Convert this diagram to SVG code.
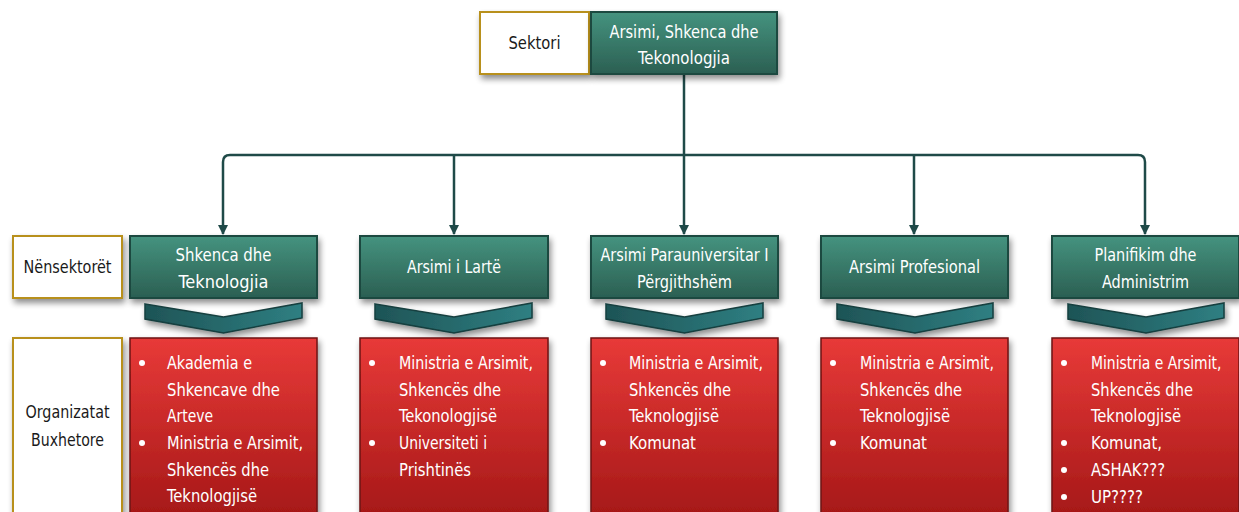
<svg xmlns="http://www.w3.org/2000/svg" width="1239" height="512" viewBox="0 0 1239 512">
<defs>
<linearGradient id="gGreen" x1="0" y1="0" x2="0" y2="1">
<stop offset="0" stop-color="#45937f"/>
<stop offset="1" stop-color="#2b5f52"/>
</linearGradient>
<linearGradient id="gRed" x1="0" y1="0" x2="0" y2="1">
<stop offset="0" stop-color="#e83a38"/>
<stop offset="1" stop-color="#a11616"/>
</linearGradient>
<linearGradient id="gChev" x1="0" y1="0" x2="1" y2="0">
<stop offset="0" stop-color="#1e5456"/>
<stop offset="1" stop-color="#2f7f82"/>
</linearGradient>
<filter id="sh" x="-10%" y="-10%" width="125%" height="135%">
<feGaussianBlur in="SourceAlpha" stdDeviation="3"/>
<feOffset dx="2" dy="4" result="b"/>
<feComponentTransfer><feFuncA type="linear" slope="0.45"/></feComponentTransfer>
<feMerge><feMergeNode/><feMergeNode in="SourceGraphic"/></feMerge>
</filter>
<marker id="arr" viewBox="0 0 10 10" refX="9" refY="5" markerWidth="10" markerHeight="10" markerUnits="userSpaceOnUse" orient="auto">
<path d="M0,0 L10,5 L0,10 z" fill="#1f4a48"/>
</marker>
</defs>
<style>
text{font-family:"Liberation Sans Narrow","DejaVu Sans Condensed","Liberation Sans",sans-serif;font-size:18px}
.w{fill:#ffffff}
.k{fill:#1a1a1a}
.mid{text-anchor:middle}
.lbl{fill:#ffffff;stroke:#b8901e;stroke-width:2}
.grn{fill:url(#gGreen);stroke:#1f4a40;stroke-width:2}
.red{fill:url(#gRed);stroke:#6d1212;stroke-width:1.5}
.chev{fill:url(#gChev);stroke:#163f3f;stroke-width:1.5}
.con{fill:none;stroke:#1f4a48;stroke-width:2.5}
</style>
<rect width="1239" height="512" fill="#ffffff"/>

<g id="connectors">
<path class="con" d="M684,74 V155"/>
<path class="con" d="M684,155 H230 Q223,155 223,162 V234" marker-end="url(#arr)"/>
<path class="con" d="M684,155 H1138 Q1145,155 1145,162 V234" marker-end="url(#arr)"/>
<path class="con" d="M454,155 V234" marker-end="url(#arr)"/>
<path class="con" d="M684,155 V234" marker-end="url(#arr)"/>
<path class="con" d="M914,155 V234" marker-end="url(#arr)"/>
</g>

<g id="label-sektori">
<rect class="lbl" x="480" y="12" width="109" height="62" filter="url(#sh)"/>
<text class="k mid" x="534.5" y="49" textLength="52" lengthAdjust="spacingAndGlyphs">Sektori</text>
</g>
<g id="root">
<rect class="grn" x="591" y="12" width="186" height="62" filter="url(#sh)"/>
<text class="w mid" x="684" y="38" textLength="149" lengthAdjust="spacingAndGlyphs">Arsimi, Shkenca dhe</text>
<text class="w mid" x="684" y="64" textLength="92" lengthAdjust="spacingAndGlyphs">Tekonologjia</text>
</g>

<g id="label-nensektoret">
<rect class="lbl" x="13" y="236" width="109" height="62" filter="url(#sh)"/>
<text class="k mid" x="67.5" y="273" textLength="88" lengthAdjust="spacingAndGlyphs">Nënsektorët</text>
</g>
<g id="label-organizatat">
<rect class="lbl" x="13" y="338" width="109" height="190" filter="url(#sh)"/>
<text class="k mid" x="67.5" y="418" textLength="84" lengthAdjust="spacingAndGlyphs">Organizatat</text>
<text class="k mid" x="67.5" y="446" textLength="73" lengthAdjust="spacingAndGlyphs">Buxhetore</text>
</g>

<!-- Column 1 -->
<g id="sub1">
<rect class="grn" x="130" y="236" width="187" height="62" filter="url(#sh)"/>
<text class="w mid" x="223.5" y="261" textLength="96" lengthAdjust="spacingAndGlyphs">Shkenca dhe</text>
<text class="w mid" x="223.5" y="288" textLength="90" lengthAdjust="spacingAndGlyphs">Teknologjia</text>
</g>
<g id="chev1"><path class="chev" filter="url(#sh)" d="M145,304 L223.5,317 L302,303 L302,318 L223.5,333 L145,319 Z"/></g>
<g id="org1">
<rect class="red" x="130" y="338" width="187" height="190" filter="url(#sh)"/>
<circle class="w" cx="142" cy="363" r="3"/>
<circle class="w" cx="142" cy="443" r="3"/>
<text class="w" x="167" y="369" textLength="85" lengthAdjust="spacingAndGlyphs">Akademia e</text>
<text class="w" x="167" y="396" textLength="113" lengthAdjust="spacingAndGlyphs">Shkencave dhe</text>
<text class="w" x="167" y="422" textLength="46" lengthAdjust="spacingAndGlyphs">Arteve</text>
<text class="w" x="167" y="449" textLength="136" lengthAdjust="spacingAndGlyphs">Ministria e Arsimit,</text>
<text class="w" x="167" y="476" textLength="102" lengthAdjust="spacingAndGlyphs">Shkencës dhe</text>
<text class="w" x="167" y="502" textLength="90" lengthAdjust="spacingAndGlyphs">Teknologjisë</text>
</g>

<!-- Column 2 -->
<g id="sub2">
<rect class="grn" x="360" y="236" width="188" height="62" filter="url(#sh)"/>
<text class="w mid" x="454" y="273" textLength="94" lengthAdjust="spacingAndGlyphs">Arsimi i Lartë</text>
</g>
<g id="chev2"><path class="chev" filter="url(#sh)" d="M375,304 L454,317 L532,303 L532,318 L454,333 L375,319 Z"/></g>
<g id="org2">
<rect class="red" x="360" y="338" width="188" height="190" filter="url(#sh)"/>
<circle class="w" cx="372" cy="363" r="3"/>
<circle class="w" cx="372" cy="443" r="3"/>
<text class="w" x="399" y="369" textLength="134" lengthAdjust="spacingAndGlyphs">Ministria e Arsimit,</text>
<text class="w" x="399" y="396" textLength="102" lengthAdjust="spacingAndGlyphs">Shkencës dhe</text>
<text class="w" x="399" y="422" textLength="98" lengthAdjust="spacingAndGlyphs">Tekonologjisë</text>
<text class="w" x="399" y="449" textLength="88" lengthAdjust="spacingAndGlyphs">Universiteti i</text>
<text class="w" x="399" y="476" textLength="72" lengthAdjust="spacingAndGlyphs">Prishtinës</text>
</g>

<!-- Column 3 -->
<g id="sub3">
<rect class="grn" x="591" y="236" width="187" height="62" filter="url(#sh)"/>
<text class="w mid" x="684.5" y="261" textLength="168" lengthAdjust="spacingAndGlyphs">Arsimi Parauniversitar I</text>
<text class="w mid" x="684.5" y="288" textLength="95" lengthAdjust="spacingAndGlyphs">Përgjithshëm</text>
</g>
<g id="chev3"><path class="chev" filter="url(#sh)" d="M606,304 L684.5,317 L763,303 L763,318 L684.5,333 L606,319 Z"/></g>
<g id="org3">
<rect class="red" x="591" y="338" width="187" height="190" filter="url(#sh)"/>
<circle class="w" cx="603" cy="363" r="3"/>
<circle class="w" cx="603" cy="443" r="3"/>
<text class="w" x="629" y="369" textLength="134" lengthAdjust="spacingAndGlyphs">Ministria e Arsimit,</text>
<text class="w" x="629" y="396" textLength="102" lengthAdjust="spacingAndGlyphs">Shkencës dhe</text>
<text class="w" x="629" y="422" textLength="90" lengthAdjust="spacingAndGlyphs">Teknologjisë</text>
<text class="w" x="629" y="449" textLength="67" lengthAdjust="spacingAndGlyphs">Komunat</text>
</g>

<!-- Column 4 -->
<g id="sub4">
<rect class="grn" x="821" y="236" width="187" height="62" filter="url(#sh)"/>
<text class="w mid" x="914.5" y="273" textLength="131" lengthAdjust="spacingAndGlyphs">Arsimi Profesional</text>
</g>
<g id="chev4"><path class="chev" filter="url(#sh)" d="M837,304 L915,317 L993,303 L993,318 L915,333 L837,319 Z"/></g>
<g id="org4">
<rect class="red" x="821" y="338" width="187" height="190" filter="url(#sh)"/>
<circle class="w" cx="833" cy="363" r="3"/>
<circle class="w" cx="833" cy="443" r="3"/>
<text class="w" x="860" y="369" textLength="134" lengthAdjust="spacingAndGlyphs">Ministria e Arsimit,</text>
<text class="w" x="860" y="396" textLength="102" lengthAdjust="spacingAndGlyphs">Shkencës dhe</text>
<text class="w" x="860" y="422" textLength="90" lengthAdjust="spacingAndGlyphs">Teknologjisë</text>
<text class="w" x="860" y="449" textLength="67" lengthAdjust="spacingAndGlyphs">Komunat</text>
</g>

<!-- Column 5 -->
<g id="sub5">
<rect class="grn" x="1052" y="236" width="187" height="62" filter="url(#sh)"/>
<text class="w mid" x="1145.5" y="261" textLength="102" lengthAdjust="spacingAndGlyphs">Planifikim dhe</text>
<text class="w mid" x="1145.5" y="288" textLength="87" lengthAdjust="spacingAndGlyphs">Administrim</text>
</g>
<g id="chev5"><path class="chev" filter="url(#sh)" d="M1068,304 L1146,317 L1224,303 L1224,318 L1146,333 L1068,319 Z"/></g>
<g id="org5">
<rect class="red" x="1052" y="338" width="187" height="190" filter="url(#sh)"/>
<circle class="w" cx="1064" cy="363" r="3"/>
<circle class="w" cx="1064" cy="443" r="3"/>
<circle class="w" cx="1064" cy="470" r="3"/>
<circle class="w" cx="1064" cy="497" r="3"/>
<text class="w" transform="translate(1091,369) scale(0.86,1)" x="0" y="0">Ministria e Arsimit,</text>
<text class="w" x="1091" y="396" textLength="102" lengthAdjust="spacingAndGlyphs">Shkencës dhe</text>
<text class="w" x="1091" y="422" textLength="90" lengthAdjust="spacingAndGlyphs">Teknologjisë</text>
<text class="w" x="1091" y="449" textLength="71" lengthAdjust="spacingAndGlyphs">Komunat,</text>
<text class="w" x="1091" y="476" textLength="74" lengthAdjust="spacingAndGlyphs">ASHAK???</text>
<text class="w" x="1091" y="503" textLength="52" lengthAdjust="spacingAndGlyphs">UP????</text>
</g>
</svg>
